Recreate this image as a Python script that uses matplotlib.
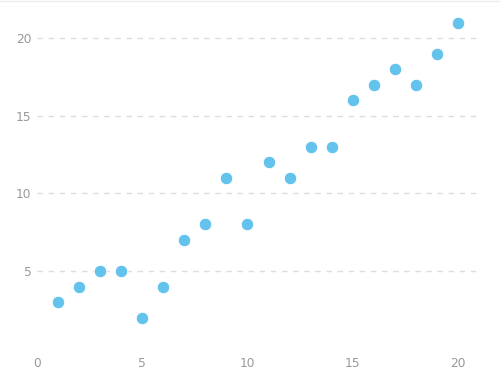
import matplotlib
matplotlib.use("Agg")
import matplotlib.pyplot as plt
from matplotlib.lines import Line2D

# data
xs = [1, 2, 3, 4, 5, 6, 7, 8, 9, 10, 11, 12, 13, 14, 15, 16, 17, 18, 19, 20]
ys = [3, 4, 5, 5, 2, 4, 7, 8, 11, 8, 12, 11, 13, 13, 16, 17, 18, 17, 19, 21]
x_ticks = [0, 5, 10, 15, 20]
y_ticks = [5, 10, 15, 20]

fig = plt.figure(figsize=(5, 3.92), dpi=100)
ax = fig.add_axes([0.074, 0.1105, 0.884, 0.8715])

ax.scatter(xs, ys, s=80, color="#63c3ec", edgecolors="white", linewidths=0.6, zorder=3)

ax.set_xlim(0, 21)
ax.set_ylim(0, 22)
ax.set_xticks(x_ticks)
ax.set_yticks(y_ticks)
ax.tick_params(length=0, labelsize=8.8, labelcolor="#999999", pad=4)
ax.tick_params(axis="x", pad=6)
ax.yaxis.grid(True, color="#dddddd", linestyle=(0, (4, 4)), linewidth=1)
ax.set_axisbelow(True)
for s in ax.spines.values():
    s.set_visible(False)

# thin border at the top of the image
fig.add_artist(Line2D([0, 1], [0.998, 0.998], color="#eeeeee", linewidth=1, transform=fig.transFigure))

fig.savefig("out.png", dpi=100)
